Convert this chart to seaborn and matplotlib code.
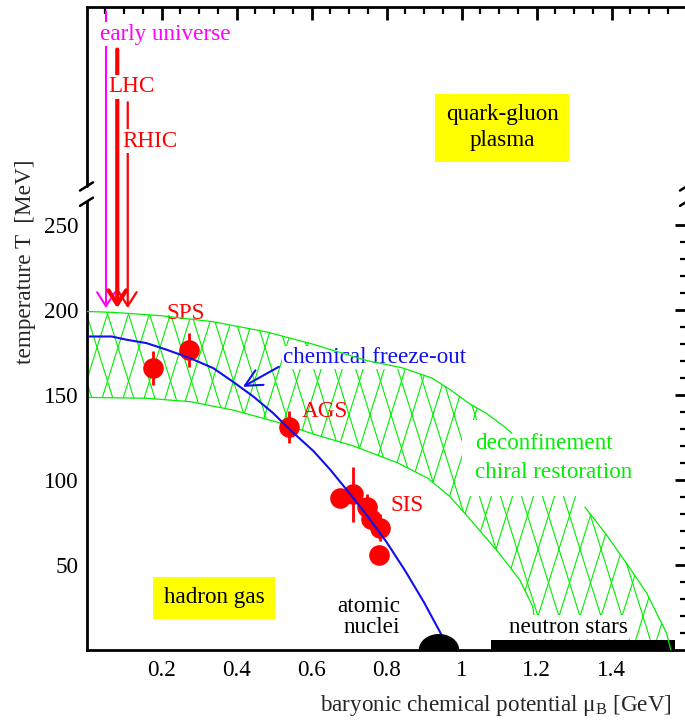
import numpy as np
import matplotlib
matplotlib.use("Agg")
import matplotlib.pyplot as plt
import seaborn as sns
from matplotlib.patches import Polygon, Ellipse
from matplotlib.ticker import FixedLocator
from matplotlib.collections import LineCollection

# chemical freeze-out curve (mu_B in GeV, T in MeV)
freeze_mu = [0.008, 0.067, 0.107, 0.16, 0.214, 0.276, 0.338, 0.392, 0.445, 0.498,
             0.543, 0.605, 0.65, 0.70, 0.75, 0.80, 0.85, 0.90, 0.947]
freeze_T = [184.3, 184.3, 182.4, 180.4, 176.5, 171.6, 165.7, 157.5, 149.0, 139.2,
            129.4, 117.0, 106.0, 92.5, 78.5, 63.5, 46.5, 28.0, 8.8]

# measured freeze-out points
pt_mu = [0.176, 0.273, 0.540, 0.676, 0.711, 0.747, 0.758, 0.782, 0.781]
pt_T = [166, 176.5, 131, 89.5, 91.5, 84, 77, 72, 56]
pt_yerr = [10, 10, 9.5, 0, 16, 8, 0, 8, 0]
pt_xerr = [0, 0, 0, 0, 0, 0.015, 0, 0.01, 0]

# deconfinement / chiral restoration band
up_mu = [0.0, 0.07, 0.2, 0.337, 0.48, 0.6, 0.75, 0.84, 0.92, 0.97, 1.02, 1.067,
         1.11, 1.134, 1.2, 1.27, 1.329, 1.387, 1.44, 1.494, 1.547, 1.558]
up_T = [199, 198.5, 196.5, 193, 187, 180, 170, 166, 160, 153, 145, 139,
        132, 127.5, 115, 100, 84, 67.6, 51, 33.4, 9.8, 0]
low_mu = [0.0, 0.16, 0.276, 0.392, 0.516, 0.604, 0.711, 0.83, 0.91, 0.97,
          1.03, 1.10, 1.156, 1.19, 1.205]
low_T = [148.5, 148, 146, 141, 133.5, 127, 120, 110, 101, 90,
         75, 57, 41, 25.5, 0]

# arrows: early universe, LHC, RHIC
arrow_mu = [0.052, 0.082, 0.110]
arrow_top = [375.5, 353, 322]
arrow_tip = 201
arrow_col = ["#ff00ff", "#ff0000", "#ff0000"]
arrow_lw = [1.5, 3.0, 1.6]

# neutron stars bar and nuclei blob
nstar_mu = [1.078, 1.568]
nstar_T = 6
nuclei_mu = 0.94

sns.set_theme(style="white")
plt.rcParams["font.family"] = ["Liberation Serif", "DejaVu Serif"]
plt.rcParams["mathtext.fontset"] = "custom"
plt.rcParams["mathtext.rm"] = "Liberation Serif"
plt.rcParams["axes.edgecolor"] = "black"
plt.rcParams["axes.linewidth"] = 2

green = "#00ee00"
fs = 16.7

fig = plt.figure(figsize=(6.85, 7.22), dpi=100)
ax = fig.add_axes([86.5 / 685, 72 / 722, 600 / 685, 643 / 722])
ax.set_xlim(0, 1.6)
ax.set_ylim(0, 378)

# band with diamond hatching
verts = list(zip(up_mu, up_T)) + list(zip(low_mu[::-1], low_T[::-1]))
poly = Polygon(verts, closed=True, facecolor="none", edgecolor="none")
ax.add_patch(poly)
m = 3.2 * 375 / 1.7
dx = 21 / 375
segs = []
for k in range(-40, 80):
    x0 = k * dx
    segs.append([(x0, 0), (x0 + 400 / m, 400)])
    segs.append([(x0, 0), (x0 - 400 / m, 400)])
lc = LineCollection(segs, colors=green, linewidths=0.8, zorder=1)
ax.add_collection(lc)
lc.set_clip_path(poly)
sns.lineplot(x=low_mu, y=low_T, sort=False, estimator=None, color=green, lw=0.9, ax=ax, zorder=1)

# data points
ax.errorbar(pt_mu, pt_T, yerr=pt_yerr, xerr=pt_xerr, fmt="none", ecolor="red",
            elinewidth=2, capsize=0, zorder=2)
sns.scatterplot(x=pt_mu, y=pt_T, s=220, color="red", linewidth=0, ax=ax, zorder=2)

# freeze-out curve
sns.lineplot(x=freeze_mu, y=freeze_T, sort=False, estimator=None, color="#1010ee",
             lw=1.5, ax=ax, zorder=3)

# neutron stars / nuclei
ax.fill_between(nstar_mu, 0, nstar_T, color="black", lw=0, zorder=3)
ax.add_patch(Ellipse((nuclei_mu, 0), 0.104, 18, color="black", zorder=3))

# arrows from the top
for xm, top, col, lw in zip(arrow_mu, arrow_top, arrow_col, arrow_lw):
    ax.annotate("", xy=(xm, arrow_tip), xytext=(xm, top),
                arrowprops=dict(arrowstyle="->,head_length=0.5,head_width=0.32",
                                color=col, lw=lw, shrinkA=0, shrinkB=0,
                                mutation_scale=20), annotation_clip=False)

wbox = dict(facecolor="white", edgecolor="none", pad=1)
ax.text(0.209, 362, "early universe", color="#ff00ff", fontsize=fs, ha="center", va="center", bbox=wbox, zorder=5)
ax.text(0.1205, 331, "LHC", color="red", fontsize=fs, ha="center", va="center", bbox=wbox, zorder=5)
ax.text(0.168, 299, "RHIC", color="red", fontsize=fs, ha="center", va="center", bbox=wbox, zorder=5)

ax.text(0.264, 198, "SPS", color="red", fontsize=fs, ha="center", va="center", zorder=5)
ax.text(0.636, 140, "AGS", color="red", fontsize=fs, ha="center", va="center", zorder=5)
ax.text(0.856, 85, "SIS", color="red", fontsize=fs, ha="center", va="center", zorder=5)

ax.text(0.524, 172, "chemical freeze-out", color="#1010ee", fontsize=fs, ha="left", va="center",
        bbox=wbox, zorder=5)
ax.annotate("", xy=(0.417, 154.7), xytext=(0.513, 166.5),
            arrowprops=dict(arrowstyle="->,head_length=0.6,head_width=0.3", color="#1010ee",
                            lw=1.5, shrinkA=0, shrinkB=0, mutation_scale=20))

ax.text(1.036, 113, "deconfinement\nchiral restoration", color=green, fontsize=fs,
        ha="left", va="center", linespacing=1.5,
        bbox=dict(facecolor="white", edgecolor="none", boxstyle="square,pad=0.55"), zorder=5)

# upper band edge above the text boxes, except where the deconfinement box covers it
sns.lineplot(x=up_mu[:14], y=up_T[:14], sort=False, estimator=None, color=green, lw=0.9,
             ax=ax, zorder=5.5)
sns.lineplot(x=up_mu[16:], y=up_T[16:], sort=False, estimator=None, color=green, lw=0.9,
             ax=ax, zorder=5.5)

ax.text(1.108, 307, "quark-gluon\nplasma", color="black", fontsize=fs, ha="center", va="center",
        linespacing=1.3, bbox=dict(facecolor="#ffff00", edgecolor="none", boxstyle="square,pad=0.45"),
        zorder=5)
ax.text(0.34, 30.6, "hadron gas", color="black", fontsize=fs, ha="center", va="center",
        bbox=dict(facecolor="#ffff00", edgecolor="none", boxstyle="square,pad=0.45"), zorder=5)
ax.text(0.836, 19.4, "atomic\nnuclei", color="black", fontsize=fs, ha="right", va="center",
        multialignment="right", linespacing=1.05, zorder=5)
ax.text(1.284, 13.5, "neutron stars", color="black", fontsize=fs, ha="center", va="center",
        bbox=wbox, zorder=5)

# axes, ticks and broken y axis
ax.xaxis.set_major_locator(FixedLocator([0.2, 0.4, 0.6, 0.8, 1.0, 1.2, 1.4]))
ax.set_xticklabels(["0.2", "0.4", "0.6", "0.8", "1", "1.2", "1.4"])
ax.xaxis.set_minor_locator(FixedLocator([i * 0.05 for i in range(1, 32) if i % 4]))
ax.yaxis.set_major_locator(FixedLocator([50, 100, 150, 200, 250]))
ax.yaxis.set_minor_locator(FixedLocator([t for t in range(10, 260, 10) if t % 50]))
ax.tick_params(which="both", direction="in", top=True, right=True, colors="black",
               labelsize=fs, width=2)
ax.tick_params(which="major", length=9)
ax.tick_params(which="minor", length=5, width=1.6)
ax.tick_params(axis="x", pad=7)
ax.tick_params(axis="y", pad=6)

brk_lo, brk_hi = 263.5, 272.5
for side, xs in (("left", 0.0), ("right", 1.6)):
    ax.spines[side].set_bounds(0, brk_lo)
    ax.plot([xs, xs], [brk_hi, 378], color="black", lw=2, clip_on=False, zorder=6)
    for tb in (brk_lo, brk_hi):
        ax.plot([xs - 0.0173, xs + 0.0173], [tb - 2.4, tb + 2.4], color="black", lw=1.8,
                clip_on=False, zorder=6)

ax.set_xlabel("")
ax.set_ylabel("")
fig.text(26 / 685, 1 - 262 / 722, "temperature T  [MeV]", rotation=90, ha="center", va="center",
         fontsize=fs)
fig.text(672 / 685, 1 - 705 / 722, "baryonic chemical potential μ$_{\\rm B}$ [GeV]", ha="right",
         va="center", fontsize=fs)

fig.savefig("out.png", dpi=100)
